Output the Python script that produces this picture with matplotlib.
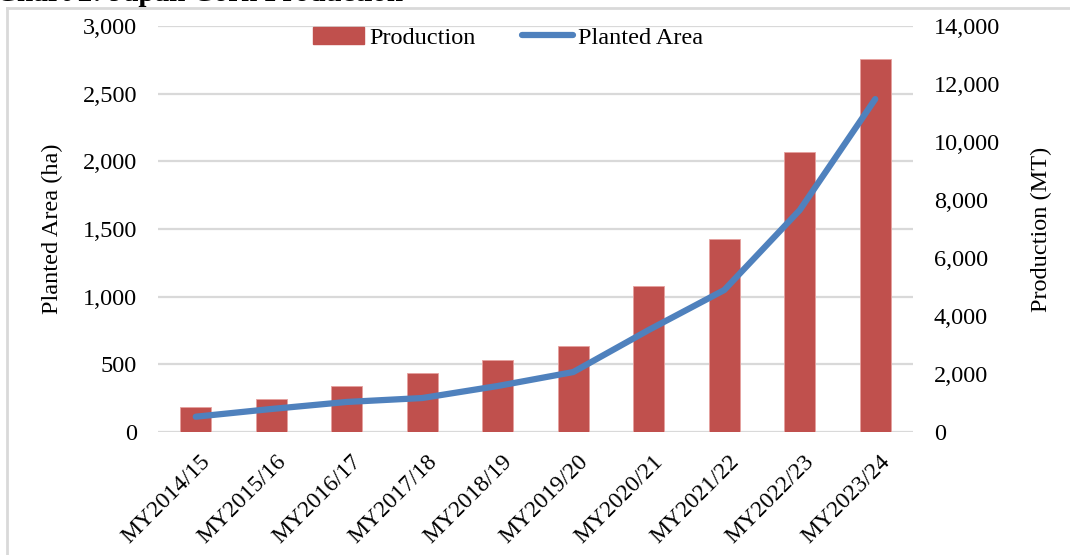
import matplotlib.pyplot as plt
from matplotlib.lines import Line2D
from matplotlib.transforms import ScaledTranslation
import numpy as np

# data
years = ["MY2014/15", "MY2015/16", "MY2016/17", "MY2017/18", "MY2018/19",
         "MY2019/20", "MY2020/21", "MY2021/22", "MY2022/23", "MY2023/24"]
production = [860, 1140, 1590, 2030, 2480, 2960, 5030, 6650, 9660, 12860]  # MT
planted_area = [113, 170, 222, 251, 340, 443, 754, 1049, 1640, 2460]  # ha

plt.rcParams['font.family'] = ['Liberation Serif', 'DejaVu Serif']

bar_color = '#c0504d'
line_color = '#4f81bd'
grid_color = '#d9d9d9'
fs = 17.5

fig = plt.figure(figsize=(10.7, 5.55), dpi=100)
ax = fig.add_axes([158/1070, 1 - 432/555, 755/1070, 406/555])
ax2 = ax.twinx()
ax3 = ax.twinx()

x = np.arange(len(years))

# bars on right axis (production)
ax2.bar(x, production, width=0.41, color=bar_color, edgecolor='#e6a09e',
        linewidth=0.6, zorder=2)
ax2.set_ylim(0, 14000)
ax2.set_yticks(np.arange(0, 14001, 2000))
ax2.set_yticklabels([f"{v:,}" for v in range(0, 14001, 2000)])
ax2.set_ylabel("Production (MT)", fontsize=fs, labelpad=22)

# left axis (planted area) with grid
ax.set_ylim(0, 3000)
ax.set_yticks(np.arange(0, 3001, 500))
ax.set_yticklabels([f"{v:,}" for v in range(0, 3001, 500)])
ax.set_ylabel("Planted Area (ha)", fontsize=fs, labelpad=14)
ax.grid(axis='y', color=grid_color, linewidth=1.6, zorder=0)
ax.set_axisbelow(True)

# line drawn on top of the bars
ax3.set_ylim(0, 3000)
ax3.axis('off')
ax3.plot(x, planted_area, color=line_color, linewidth=4.5,
         solid_capstyle='round', solid_joinstyle='round')

ax.set_zorder(1)
ax2.set_zorder(2)
ax3.set_zorder(3)
ax2.patch.set_visible(False)
ax3.patch.set_visible(False)

# x labels, rotated 45 degrees, top-right corner at the category centre
ax.set_xlim(-0.5, len(years) - 0.5)
ax.set_xticks(x)
ax.set_xticklabels([])
shift = ax.get_xaxis_transform() + ScaledTranslation(0.04, -0.19, fig.dpi_scale_trans)
for xi, lab in zip(x, years):
    ax.text(xi, 0, lab, transform=shift, rotation=45, ha='right', va='top',
            rotation_mode='anchor', fontsize=17, clip_on=False)

for a in (ax, ax2):
    for s in a.spines.values():
        s.set_visible(False)
    a.tick_params(length=0, labelsize=fs)
ax.tick_params(axis='y', pad=15)
ax2.tick_params(axis='y', pad=15)
ax.axhline(0, color=grid_color, linewidth=2, zorder=1)

# legend
handles = [plt.Rectangle((0, 0), 1, 1, color=bar_color),
           Line2D([0], [0], color=line_color, linewidth=4.5, solid_capstyle='round')]
fig.legend(handles, ["Production", "Planted Area"], loc='center',
           bbox_to_anchor=(508/1070, 1 - 38/555), ncol=2, frameon=False,
           fontsize=fs, handlelength=2.1, handletextpad=0.2, columnspacing=1.9)

# cut-off title and frame lines
fig.text(-4/1070, 1 - 1.2/555, "Chart 2: Japan Corn Production", fontsize=21,
         fontweight='bold', va='baseline', ha='left')
fig.add_artist(Line2D([7/1070, 7/1070], [0, 1 - 8/555], color=grid_color,
                      linewidth=2, transform=fig.transFigure))
fig.add_artist(Line2D([7/1070, 1], [1 - 8/555, 1 - 8/555], color=grid_color,
                      linewidth=2, transform=fig.transFigure))

fig.savefig("out.png", dpi=100)
